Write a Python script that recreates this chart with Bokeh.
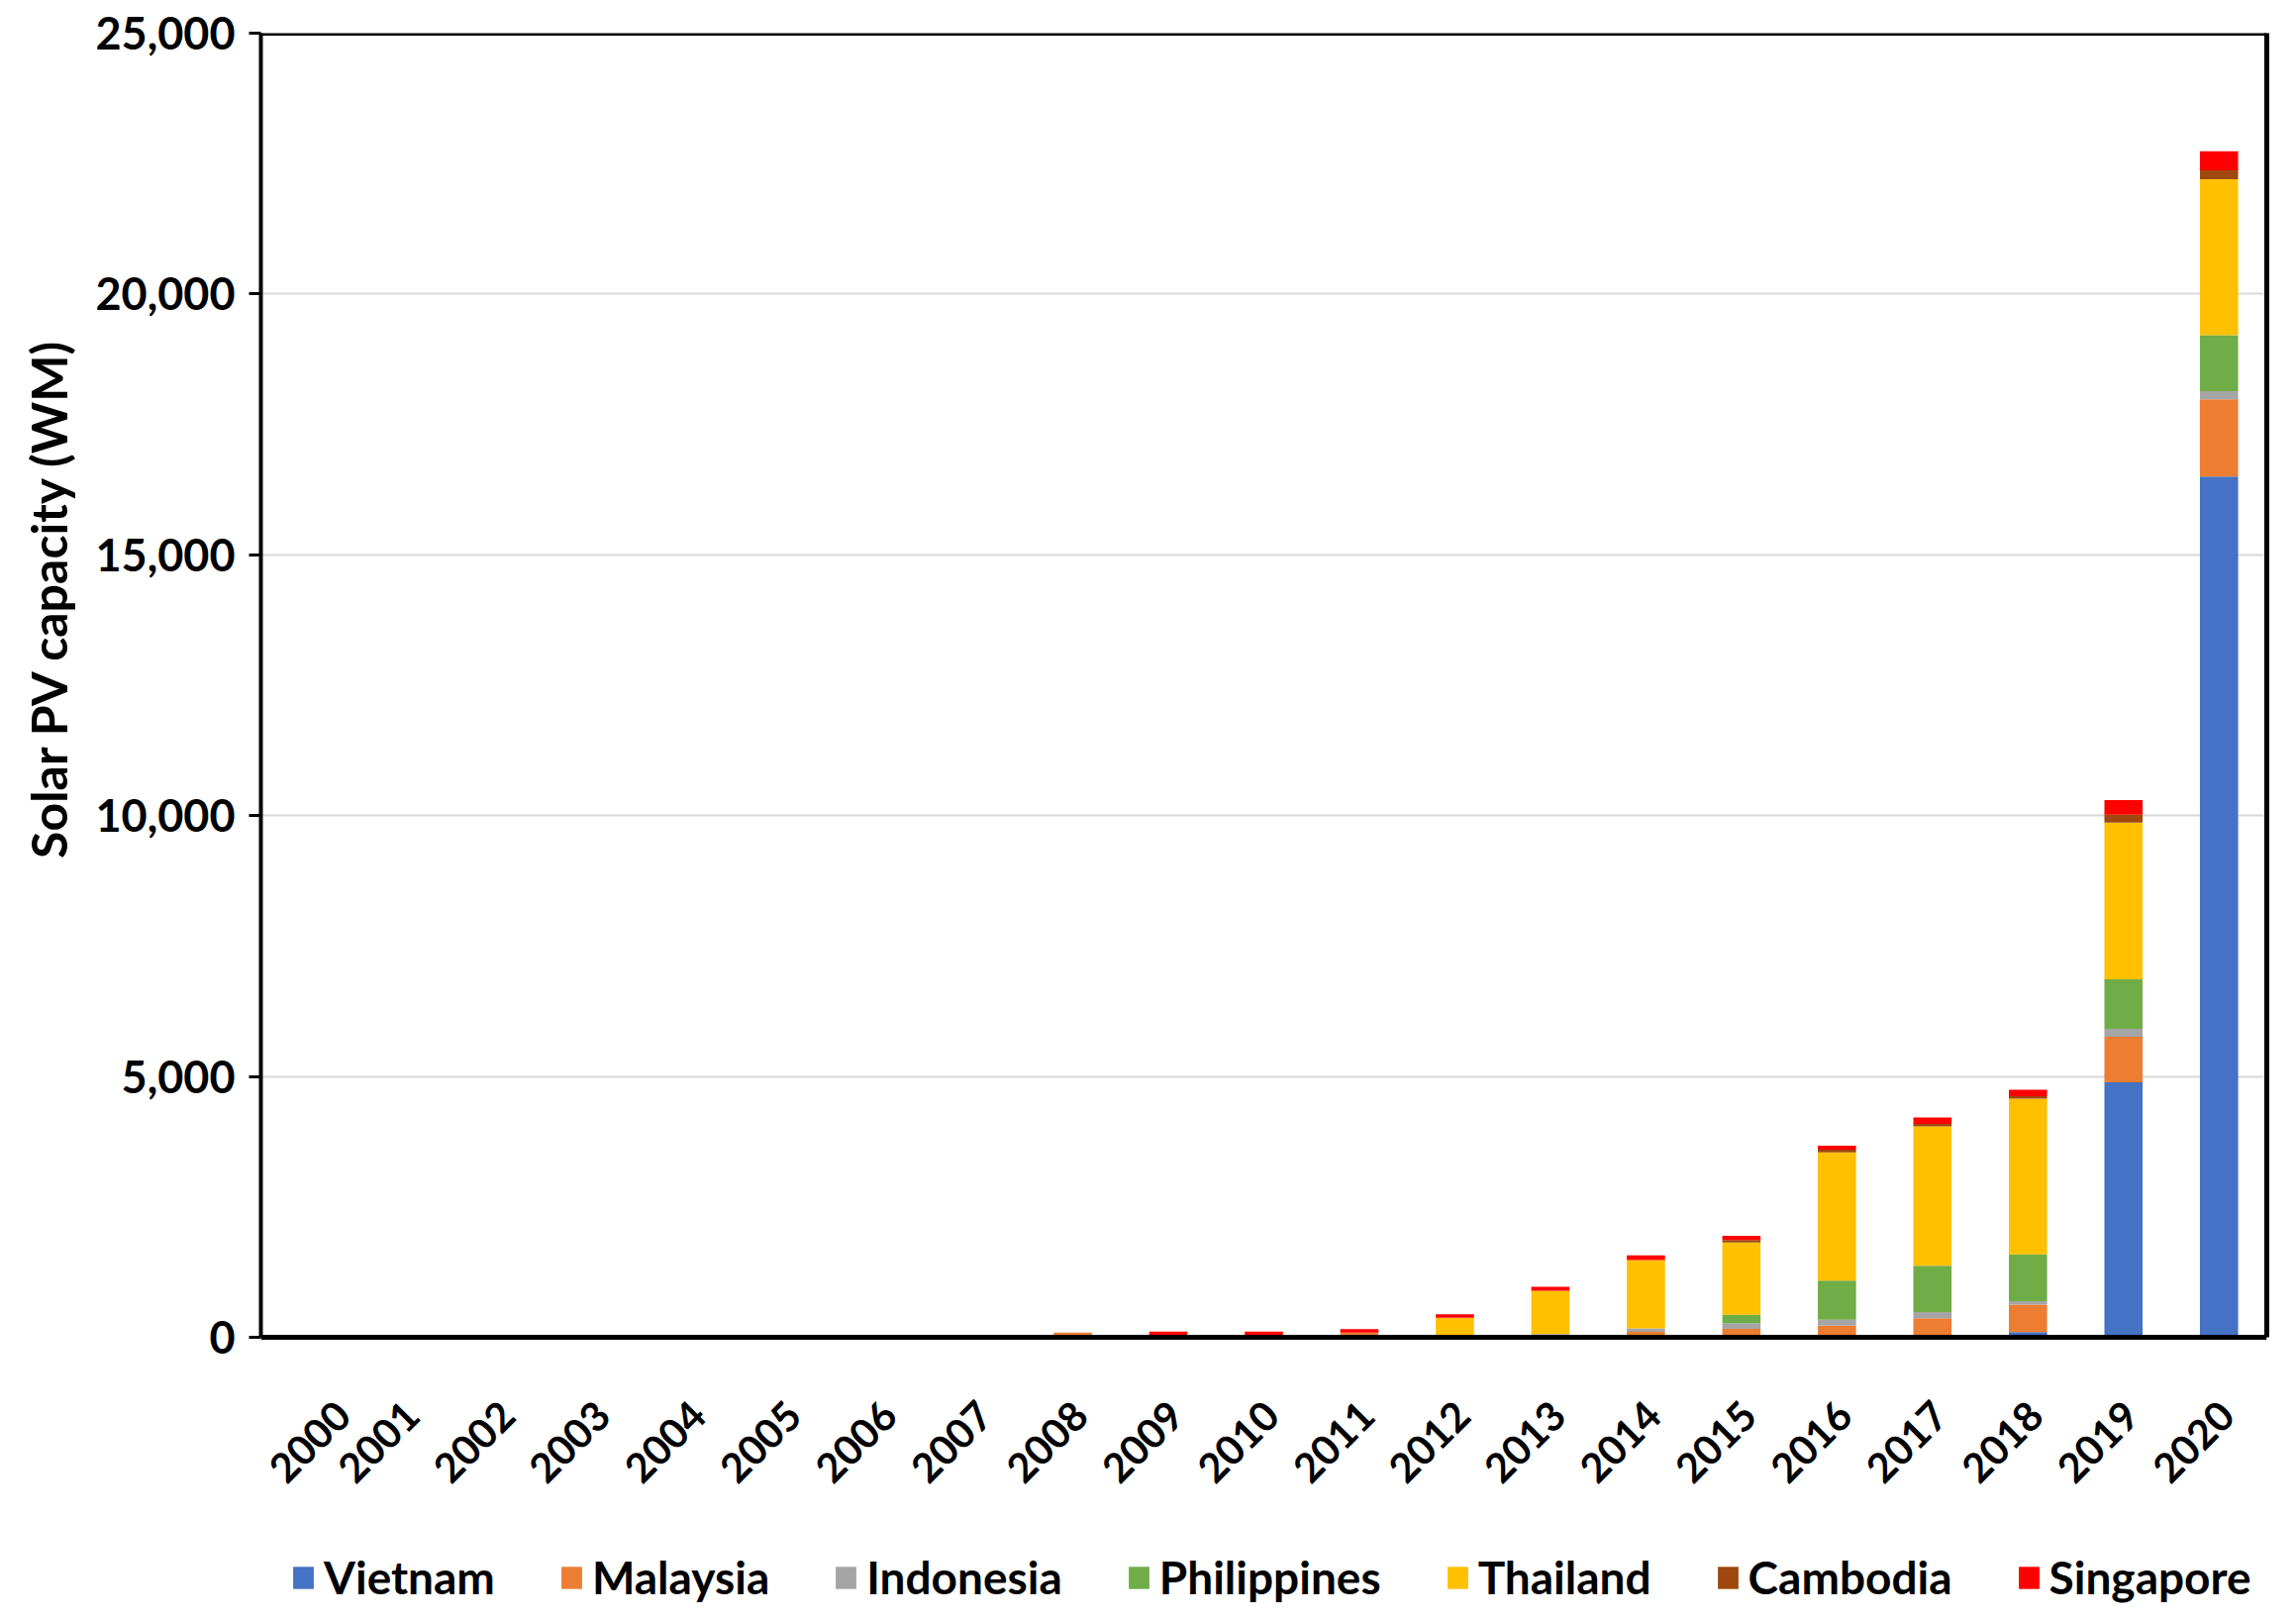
import math
from bokeh.plotting import figure
from bokeh.models import (ColumnDataSource, NumeralTickFormatter, Legend, FactorRange,
                          Span, LinearAxis, FixedTicker)
from bokeh.core.properties import value
from bokeh.embed import file_html
from bokeh.resources import INLINE

years = [str(y) for y in range(2000, 2021)]
countries = ["Vietnam", "Malaysia", "Indonesia", "Philippines", "Thailand", "Cambodia", "Singapore"]
colors = ["#4472C4", "#ED7D31", "#A5A5A5", "#70AD47", "#FFC000", "#9E480E", "#FF0000"]

#            2000..2007                 2008 2009 2010 2011 2012 2013 2014  2015  2016  2017  2018  2019   2020
vietnam     = [0, 0, 0, 0, 0, 0, 0, 0,  0,   0,   0,   0,   0,   0,   0,    0,    0,    0,    100,  4890,  16500]
malaysia    = [0, 0, 0, 0, 0, 0, 0, 0,  90,  40,  40,  90,  25,  35,  105,  160,  224,  364,  525,  873,   1483]
indonesia   = [0, 0, 0, 0, 0, 0, 0, 0,  0,   0,   0,   0,   0,   28,  68,   110,  115,  119,  68,   152,   153]
philippines = [0, 0, 0, 0, 0, 0, 0, 0,  0,   0,   0,   0,   0,   0,   0,    160,  748,  890,  898,  949,   1076]
thailand    = [0, 0, 0, 0, 0, 0, 0, 0,  0,   0,   0,   0,   350, 830, 1310, 1390, 2460, 2669, 2983, 3000,  2990]
cambodia    = [0, 0, 0, 0, 0, 0, 0, 0,  0,   0,   0,   0,   0,   0,   0,    45,   50,   50,   50,   153,   170]
singapore   = [0, 0, 0, 0, 0, 0, 0, 0,  0,   70,  70,  65,  65,  75,  88,   82,   77,   120,  120,  280,   365]

y_ticks = [0, 5000, 10000, 15000, 20000, 25000]
Y_MAX = 25000
Y_MIN = -5182   # space under the zero line for the year labels and the legend

source = ColumnDataSource(data=dict(
    year=years, Vietnam=vietnam, Malaysia=malaysia, Indonesia=indonesia,
    Philippines=philippines, Thailand=thailand, Cambodia=cambodia, Singapore=singapore))

# the first label would be clipped by the plot's left edge, so nudge it right
label_dx = [35 if i == 0 else 8 for i in range(len(years))]
label_source = ColumnDataSource(data=dict(year=years, y=[0] * len(years), dx=label_dx))

FONT = "Lato"

p = figure(x_range=FactorRange(*years, range_padding=0), y_range=(Y_MIN, Y_MAX),
           frame_width=2026, frame_height=1590, output_backend="svg", toolbar_location=None,
           x_axis_location=None,
           min_border_left=263, min_border_right=11, min_border_top=33, min_border_bottom=0)

renderers = p.vbar_stack(countries, x="year", width=0.4, source=source, color=colors,
                         line_color=None)

p.background_fill_color = "white"
p.border_fill_color = "white"
p.outline_line_color = None

p.xgrid.grid_line_color = None
p.ygrid.grid_line_color = "#D9D9D9"
p.ygrid.grid_line_width = 2

p.yaxis.ticker = y_ticks
p.yaxis.bounds = (0, Y_MAX)
p.yaxis.formatter = NumeralTickFormatter(format="0,0")
p.yaxis.minor_tick_line_color = None
p.yaxis.major_tick_out = 12
p.yaxis.major_tick_in = 0
p.yaxis.major_tick_line_width = 3
p.yaxis.axis_line_width = 4
p.yaxis.axis_line_color = "black"
p.yaxis.major_label_text_font = FONT
p.yaxis.major_label_text_font_style = "bold"
p.yaxis.major_label_text_font_size = "45px"
p.yaxis.major_label_text_color = "black"
p.yaxis.major_label_standoff = 14
# leading no-break spaces shift the centred title upward, as in the original
p.yaxis.axis_label = "\u00a0" * 37 + "Solar PV capacity (WM)"
p.yaxis.axis_label_text_font = FONT
p.yaxis.axis_label_text_font_style = "bold"
p.yaxis.axis_label_text_font_size = "50px"
p.yaxis.axis_label_text_color = "black"
p.yaxis.axis_label_standoff = 14

# right border line of the plot box
right_axis = LinearAxis(bounds=(0, Y_MAX), ticker=FixedTicker(ticks=[]),
                        axis_line_width=5, axis_line_color="black",
                        major_tick_line_color=None, minor_tick_line_color=None,
                        major_label_text_font_size="0px")
p.add_layout(right_axis, "right")

# top border and category (zero) axis line
p.add_layout(Span(location=Y_MAX, dimension="width", line_color="black", line_width=5))
p.add_layout(Span(location=0, dimension="width", line_color="black", line_width=5))

# year labels under the zero line, rotated 45 degrees
p.text(x="year", y="y", text="year", source=label_source, angle=math.pi / 4,
       text_align="right", text_baseline="middle", x_offset="dx", y_offset=72,
       text_font=value(FONT), text_font_style="bold", text_font_size="41px",
       text_color="black")

legend = Legend(items=[(c, [r]) for c, r in zip(countries, renderers)],
                orientation="horizontal", location=(30, 3))
legend.label_text_font = FONT
legend.label_text_font_style = "bold"
legend.label_text_font_size = "46px"
legend.label_text_color = "black"
legend.glyph_width = 26
legend.glyph_height = 28
legend.label_standoff = 8
legend.spacing = 64
legend.border_line_color = None
legend.background_fill_alpha = 0
legend.margin = 0
legend.padding = 0
p.add_layout(legend, "center")

open("out.html", "w").write(file_html(p, INLINE))
